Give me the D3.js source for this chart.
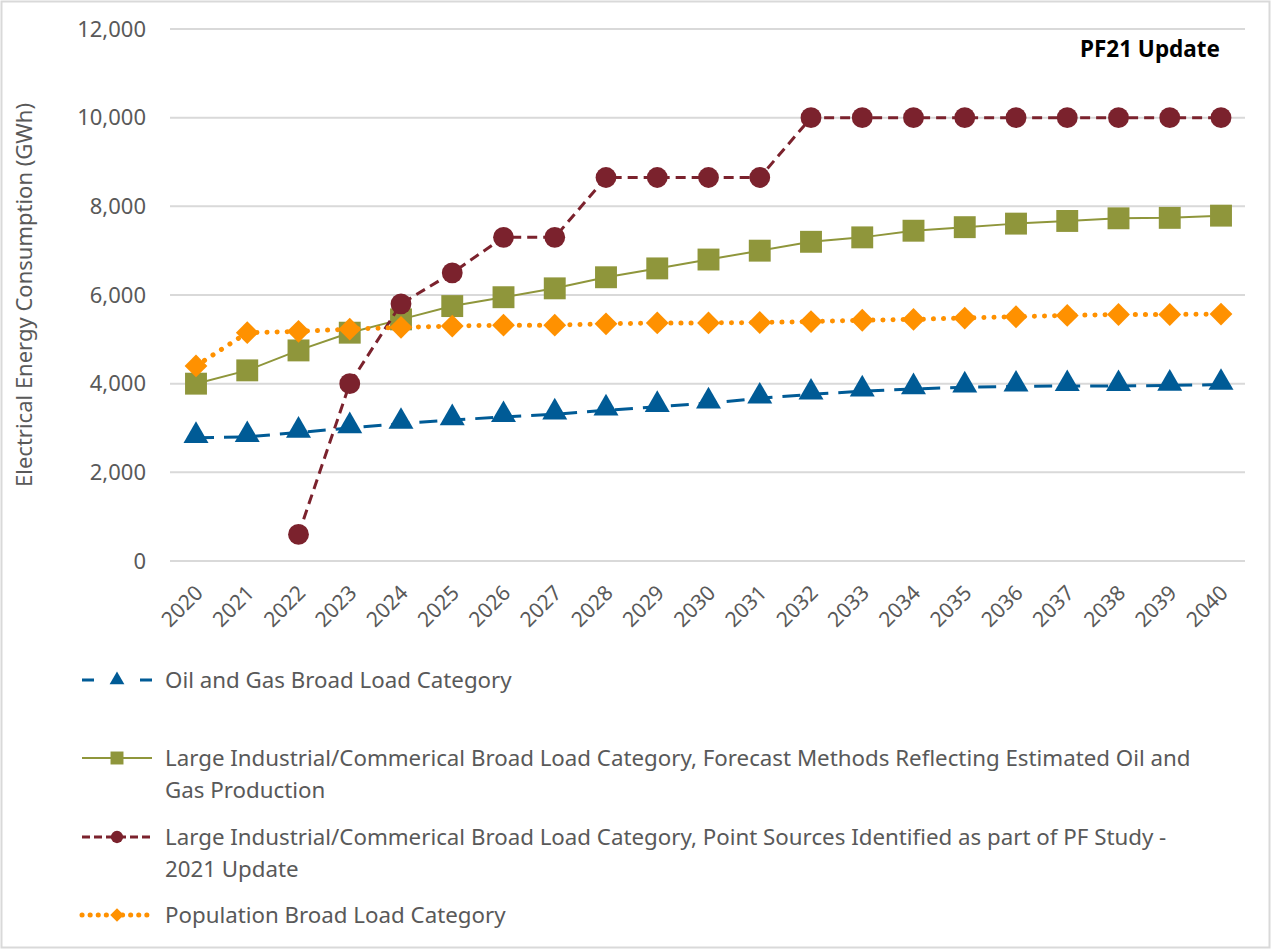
<!DOCTYPE html>
<html>
<head>
<meta charset="utf-8">
<script src="https://cdn.jsdelivr.net/npm/d3@7"></script>
<style>
  body { margin: 0; background: #fff; }
  svg text { font-family: "Noto Sans", "Open Sans", sans-serif; }
</style>
</head>
<body>
<svg id="chart" width="1275" height="951"></svg>
<script>
// years on the x axis
var years = d3.range(2020, 2041);
var yTicks = [0, 2000, 4000, 6000, 8000, 10000, 12000];

// series values (GWh)
var oilGas = [2780, 2800, 2900, 3000, 3100, 3180, 3250, 3310, 3400, 3480, 3560, 3670, 3760, 3830, 3880, 3920, 3940, 3950, 3950, 3960, 3980];
var largeForecast = [4000, 4300, 4750, 5150, 5450, 5750, 5950, 6150, 6400, 6600, 6800, 7000, 7200, 7300, 7450, 7530, 7610, 7670, 7730, 7740, 7790];
var largePoint = [null, null, 600, 4000, 5800, 6500, 7300, 7300, 8650, 8650, 8650, 8650, 10000, 10000, 10000, 10000, 10000, 10000, 10000, 10000, 10000];
var population = [4400, 5150, 5180, 5230, 5270, 5300, 5320, 5320, 5350, 5370, 5370, 5380, 5400, 5430, 5450, 5480, 5510, 5540, 5560, 5560, 5570];

var seriesNames = [
  ["Oil and Gas Broad Load Category"],
  ["Large Industrial/Commerical Broad Load Category, Forecast Methods Reflecting Estimated Oil and", "Gas Production"],
  ["Large Industrial/Commerical Broad Load Category, Point Sources Identified as part of PF Study -", "2021 Update"],
  ["Population Broad Load Category"]
];

// diamond = square turned 45 degrees
var series = [
  {values: oilGas, color: "#005b96", dash: "18,10", legDash: "12,46", width: 3, cap: "butt", sym: d3.symbolTriangle, size: 270, rot: 0},
  {values: largeForecast, color: "#8f963b", dash: null, legDash: null, width: 2, cap: "butt", sym: d3.symbolSquare, size: 480, rot: 0},
  {values: largePoint, color: "#7b222d", dash: "10,6", legDash: "8,4", width: 3, cap: "butt", sym: d3.symbolCircle, size: 340, rot: 0},
  {values: population, color: "#ff9100", dash: "0.1,10", legDash: "0.1,8", width: 5, cap: "round", sym: d3.symbolSquare, size: 260, rot: 45}
];

var svg = d3.select("#chart");

// outer frame
svg.append("rect")
  .attr("x", 1.5).attr("y", 1.5).attr("width", 1268).attr("height", 946)
  .attr("fill", "#fff").attr("stroke", "#d9d9d9").attr("stroke-width", 2);

var x = d3.scalePoint().domain(years).range([196, 1221]);
var y = d3.scaleLinear().domain([0, 12000]).range([561, 29]);

// gridlines
svg.append("g")
  .selectAll("line")
  .data(yTicks)
  .enter()
  .append("line")
  .attr("x1", 170).attr("x2", 1245)
  .attr("y1", function (d) { return y(d); })
  .attr("y2", function (d) { return y(d); })
  .attr("stroke", "#d9d9d9").attr("stroke-width", 2);

// y axis labels
var yAxis = svg.append("g")
  .attr("transform", "translate(146,0)")
  .call(d3.axisLeft(y).tickValues(yTicks).tickSize(0).tickFormat(d3.format(",")));
yAxis.select(".domain").remove();
yAxis.selectAll("text")
  .attr("fill", "#595959").attr("font-size", 22).attr("x", 0);

// x axis labels, rotated
var xAxis = svg.append("g")
  .call(d3.axisBottom(x).tickSize(0));
xAxis.select(".domain").remove();
xAxis.selectAll(".tick").attr("transform", null);
xAxis.selectAll("text")
  .attr("fill", "#595959").attr("font-size", 21)
  .attr("text-anchor", "end")
  .attr("x", null).attr("y", null).attr("dy", "0.35em")
  .attr("transform", function (d) { return "translate(" + (x(d) + 3) + ",589) rotate(-45)"; });

// y axis title
svg.append("text")
  .attr("transform", "translate(32,295) rotate(-90)")
  .attr("text-anchor", "middle")
  .attr("fill", "#595959").attr("font-size", 22)
  .text("Electrical Energy Consumption (GWh)");

// chart label
svg.append("text")
  .attr("x", 1220).attr("y", 57)
  .attr("text-anchor", "end")
  .attr("font-size", 22.5).attr("font-weight", "bold").attr("fill", "#000")
  .text("PF21 Update");

// lines and markers
series.forEach(function (s) {
  var line = d3.line()
    .defined(function (d) { return d != null; })
    .x(function (d, i) { return x(years[i]); })
    .y(function (d) { return y(d); });

  svg.append("path")
    .datum(s.values)
    .attr("d", line)
    .attr("fill", "none")
    .attr("stroke", s.color)
    .attr("stroke-width", s.width)
    .attr("stroke-linecap", s.cap)
    .attr("stroke-dasharray", s.dash);

  var pts = s.values.map(function (v, i) { return {v: v, yr: years[i]}; })
    .filter(function (d) { return d.v != null; });

  svg.append("g")
    .selectAll("path")
    .data(pts)
    .enter()
    .append("path")
    .attr("d", d3.symbol().type(s.sym).size(s.size))
    .attr("transform", function (d) {
      var dy = s.sym === d3.symbolTriangle ? -2 : 0;
      return "translate(" + x(d.yr) + "," + (y(d.v) + dy) + ") rotate(" + s.rot + ")";
    })
    .attr("fill", s.color);
});

// legend
var legendRows = [680, 758, 837, 915];
series.forEach(function (s, i) {
  var g = svg.append("g").attr("transform", "translate(0," + legendRows[i] + ")");
  g.append("line")
    .attr("x1", 82).attr("x2", 152)
    .attr("stroke", s.color)
    .attr("stroke-width", s.width)
    .attr("stroke-linecap", s.cap)
    .attr("stroke-dasharray", s.legDash);
  g.append("path")
    .attr("d", d3.symbol().type(s.sym).size(s.size * 0.35))
    .attr("transform", "translate(117,0) rotate(" + s.rot + ")")
    .attr("fill", s.color);
  seriesNames[i].forEach(function (t, j) {
    g.append("text")
      .attr("x", 165).attr("y", j * 32)
      .attr("dy", "0.35em")
      .attr("font-size", 22.3).attr("fill", "#595959")
      .text(t);
  });
});
</script>
</body>
</html>
